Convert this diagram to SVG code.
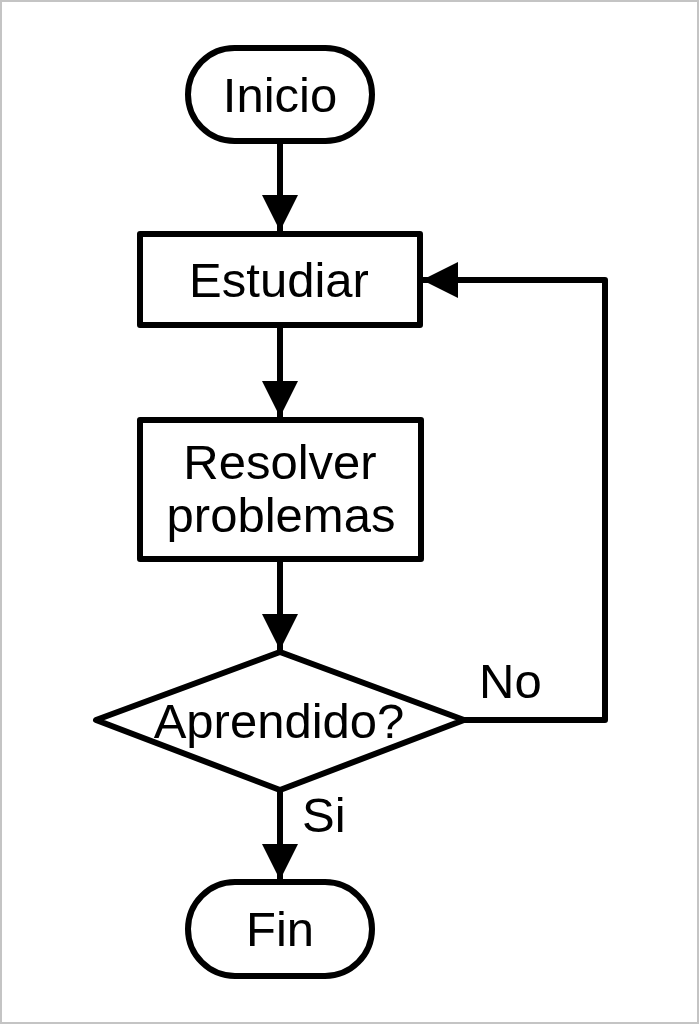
<svg xmlns="http://www.w3.org/2000/svg" width="699" height="1024" viewBox="0 0 699 1024">
<style>
.shape{fill:#fff;stroke:#000;stroke-width:6;stroke-linejoin:round}
.conn{fill:none;stroke:#000;stroke-width:6;stroke-linejoin:round}
.t{font-family:"Liberation Sans",Arial,sans-serif;font-size:49px;fill:#000;text-anchor:middle}
.lbl{font-family:"Liberation Sans",Arial,sans-serif;font-size:49px;fill:#000}
</style>
<defs>
<marker id="ah" viewBox="0 0 36 36" refX="36" refY="18" markerWidth="36" markerHeight="36" markerUnits="userSpaceOnUse" orient="auto">
<path d="M0,0 L36,18 L0,36 Z" fill="#000"/>
</marker>
</defs>
<rect x="1" y="1" width="697" height="1022" fill="#fff" stroke="#c4c4c4" stroke-width="2"/>
<g id="connectors">
<path class="conn" d="M280,142 V231" marker-end="url(#ah)"/>
<path class="conn" d="M280,326 V417" marker-end="url(#ah)"/>
<path class="conn" d="M280,560 V650" marker-end="url(#ah)"/>
<path class="conn" d="M464,720 H605 V280 H422" marker-end="url(#ah)"/>
<path class="conn" d="M280,790 V880" marker-end="url(#ah)"/>
</g>
<g id="inicio">
<rect class="shape" x="188" y="48" width="184" height="93" rx="46.5"/>
<text class="t" x="280" y="112">Inicio</text>
</g>
<g id="estudiar">
<rect class="shape" x="140" y="234" width="280" height="91"/>
<text class="t" x="279" y="297">Estudiar</text>
</g>
<g id="resolver">
<rect class="shape" x="140" y="420" width="281" height="139"/>
<text class="t" x="280" y="479">Resolver</text>
<text class="t" x="281" y="532">problemas</text>
</g>
<g id="aprendido">
<polygon class="shape" points="280,652 464,720 280,790 96,720"/>
<text class="t" x="279" y="738">Aprendido?</text>
</g>
<g id="fin">
<rect class="shape" x="188" y="882" width="184" height="94" rx="47"/>
<text class="t" x="280" y="946">Fin</text>
</g>
<g id="labels">
<text class="lbl" x="479" y="698">No</text>
<text class="lbl" x="302" y="832">Si</text>
</g>
</svg>
